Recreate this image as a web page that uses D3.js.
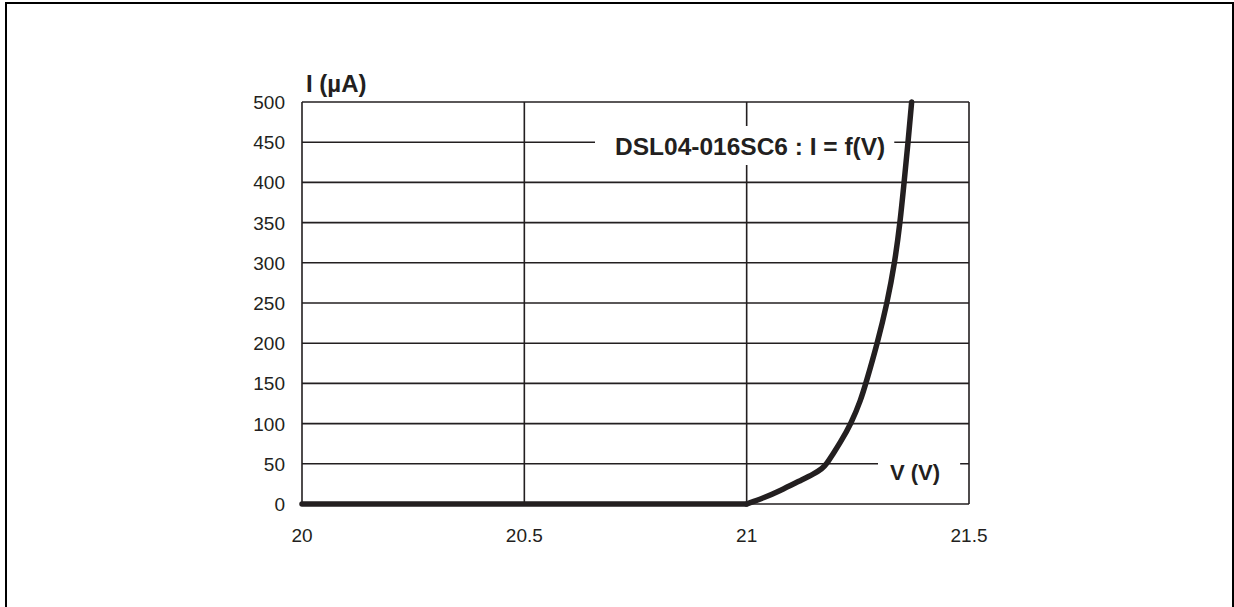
<!DOCTYPE html>
<html>
<head>
<meta charset="utf-8">
<script src="https://cdn.jsdelivr.net/npm/d3@7"></script>
<style>
  body { margin: 0; background: #fff; }
  svg { display: block; font-family: "Liberation Sans", Arial, sans-serif; }
</style>
</head>
<body>
<svg id="chart" width="1234" height="607"></svg>
<script>
// values
const voltage = [20, 20.5, 21, 21.04, 21.075, 21.12, 21.15, 21.17, 21.18, 21.195, 21.209, 21.235, 21.257, 21.268, 21.294, 21.316, 21.333, 21.345, 21.354, 21.363, 21.371];
const current = [0, 0, 0, 8, 16.5, 29, 37, 44, 50, 63, 75, 100, 130, 150, 200, 250, 300, 350, 400, 450, 500];
const kneeV = 21; // below this the current stays at 0

const xTicks = [20, 20.5, 21, 21.5];
const yTicks = [0, 50, 100, 150, 200, 250, 300, 350, 400, 450, 500];

const chartTitle = "DSL04-016SC6 : I = f(V)";
const yTitle = "I (µA)";
const xTitle = "V (V)";

const ink = "#231f20";
const svg = d3.select("#chart");

// outer frame (bottom edge runs off the picture)
svg.append("rect")
  .attr("x", 6).attr("y", 3)
  .attr("width", 1227).attr("height", 620)
  .attr("fill", "none")
  .attr("stroke", "#000")
  .attr("stroke-width", 2);

const plot = { left: 302, right: 969, top: 102, bottom: 504 };

const x = d3.scaleLinear().domain([20, 21.5]).range([plot.left, plot.right]);
const y = d3.scaleLinear().domain([0, 500]).range([plot.bottom, plot.top]);

const g = svg.append("g");

// horizontal grid
g.selectAll("line.hgrid")
  .data(yTicks)
  .enter()
  .append("line")
  .attr("class", "hgrid")
  .attr("x1", plot.left).attr("x2", plot.right)
  .attr("y1", d => y(d)).attr("y2", d => y(d))
  .attr("stroke", ink)
  .attr("stroke-width", 1.6);

// vertical grid
g.selectAll("line.vgrid")
  .data(xTicks)
  .enter()
  .append("line")
  .attr("class", "vgrid")
  .attr("x1", d => x(d)).attr("x2", d => x(d))
  .attr("y1", plot.top).attr("y2", plot.bottom)
  .attr("stroke", ink)
  .attr("stroke-width", 1.6);

// y tick labels
g.selectAll("text.ytick")
  .data(yTicks)
  .enter()
  .append("text")
  .attr("class", "ytick")
  .attr("x", plot.left - 17)
  .attr("y", d => y(d) + 7)
  .attr("text-anchor", "end")
  .attr("font-size", 19)
  .attr("fill", ink)
  .text(d => d);

// x tick labels
g.selectAll("text.xtick")
  .data(xTicks)
  .enter()
  .append("text")
  .attr("class", "xtick")
  .attr("x", d => x(d))
  .attr("y", plot.bottom + 38)
  .attr("text-anchor", "middle")
  .attr("font-size", 19)
  .attr("fill", ink)
  .text(d => d);

// y axis title
svg.append("text")
  .attr("x", plot.left + 4)
  .attr("y", 92)
  .attr("font-size", 24)
  .attr("font-weight", "bold")
  .attr("fill", ink)
  .text(yTitle);

// label with a white box that breaks the grid lines
function boxedLabel(text, tx, ty, size, pad) {
  const box = svg.append("rect").attr("fill", "#fff");
  const t = svg.append("text")
    .attr("x", tx).attr("y", ty)
    .attr("font-size", size)
    .attr("font-weight", "bold")
    .attr("fill", ink)
    .text(text);
  const b = t.node().getBBox();
  box.attr("x", b.x - pad[0])
    .attr("y", b.y - pad[1])
    .attr("width", b.width + pad[0] + pad[2])
    .attr("height", b.height + pad[1] + pad[3]);
}

boxedLabel(chartTitle, 615, 155, 24.5, [20, 7, 9, 5]);
boxedLabel(xTitle, 890, 480, 22, [12, 4, 20, 4]);

// the I-V curve: flat run straight, breakdown part smoothed
const pts = voltage.map((v, i) => [v, current[i]]);
const flat = pts.filter(p => p[0] <= kneeV);
const rise = pts.filter(p => p[0] >= kneeV);

const flatLine = d3.line()
  .x(d => x(d[0]))
  .y(d => y(d[1]));

const riseLine = d3.line()
  .x(d => x(d[0]))
  .y(d => y(d[1]))
  .curve(d3.curveBasis);

[[flat, flatLine], [rise, riseLine]].forEach(([data, gen]) => {
  svg.append("path")
    .datum(data)
    .attr("d", gen)
    .attr("fill", "none")
    .attr("stroke", ink)
    .attr("stroke-width", 5.5)
    .attr("stroke-linecap", "round")
    .attr("stroke-linejoin", "round");
});
</script>
</body>
</html>
